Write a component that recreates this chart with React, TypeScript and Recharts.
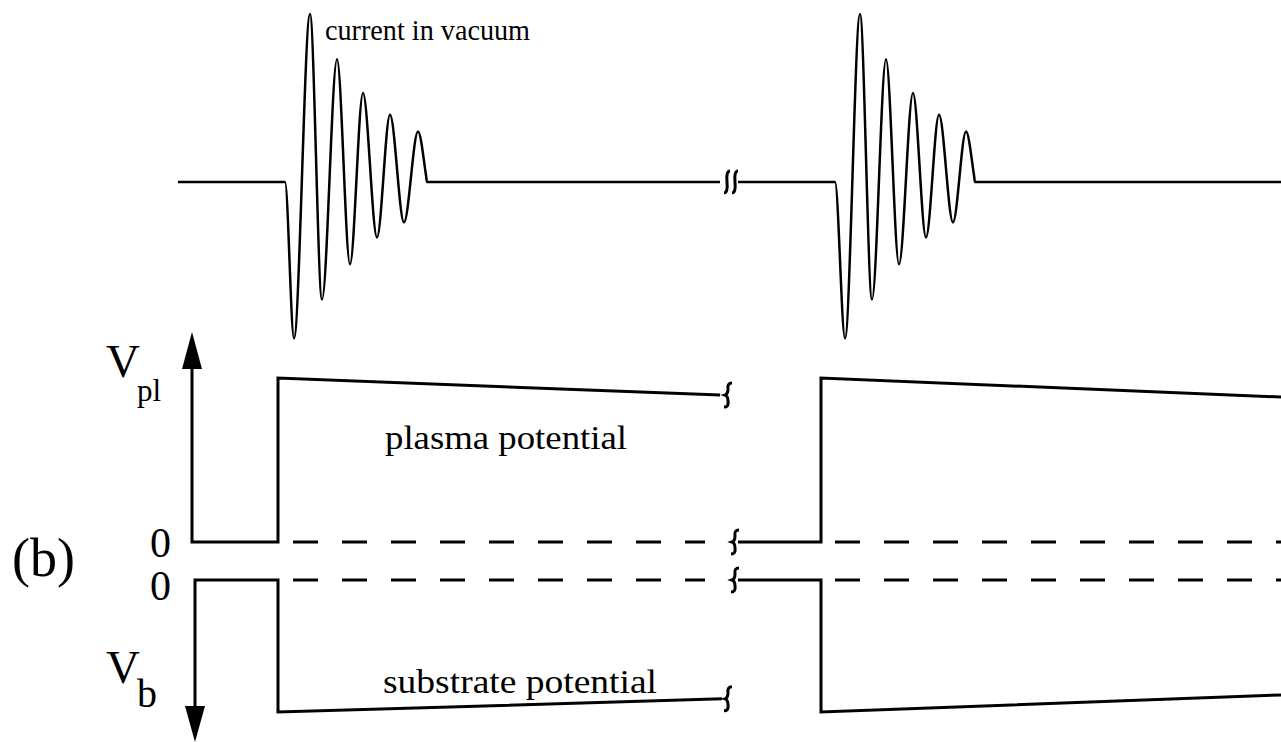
import React from "react";
import { ComposedChart, Line, Scatter, XAxis, YAxis } from "recharts";

// time axis (arbitrary units across the figure)
const burst1T = [285, 294, 310, 322, 337, 350, 363, 377, 390, 404, 418, 426];
const burst2T = [835, 845, 860, 872, 886, 899, 913, 926, 939, 953, 966, 974];
const burstI = [0, -0.93, 1.0, -0.7, 0.73, -0.49, 0.53, -0.33, 0.4, -0.24, 0.3, 0.04];

// plasma potential (upper trace), normalised to V_pl
const plasma1T = [192, 192, 278, 278, 720];
const plasma1V = [1.06, 0, 0, 1.0, 0.896];
const plasma2T = [738, 821, 821, 1281];
const plasma2V = [0, 0, 1.0, 0.884];

// substrate potential (lower trace), normalised to V_b
const sub1T = [195, 195, 278, 278, 722];
const sub1V = [-0.96, 0, 0, -1.0, -0.9];
const sub2T = [738, 821, 821, 1281];
const sub2V = [0, 0, -1.0, -0.87];

// dashed zero references
const zeroA = [293, 705];
const zeroB = [835, 1281];

const pts = (t: number[], v: number[]) => t.map((x, i) => ({ t: x, v: v[i] }));

const current1 = [{ t: 178, v: 0 }, ...pts(burst1T, burstI), { t: 427, v: 0 }, { t: 720, v: 0 }];
const current2 = [{ t: 738, v: 0 }, ...pts(burst2T, burstI), { t: 975, v: 0 }, { t: 1281, v: 0 }];

const brace = (props: any) => {
  const { cx, cy } = props;
  const d = `M${cx + 4},${cy - 12} Q${cx - 1},${cy - 12} ${cx},${cy - 6} Q${cx},${cy - 1} ${cx - 3},${cy} Q${cx},${cy + 1} ${cx},${cy + 6} Q${cx + 1},${cy + 12} ${cx - 4},${cy + 12}`;
  return <path d={d} fill="none" stroke="#000" strokeWidth={3} />;
};
const doubleBrace = (props: any) => {
  const { cx, cy } = props;
  const s = (x: number) =>
    `M${x + 3},${cy - 11} Q${x - 1},${cy - 11} ${x},${cy} Q${x + 1},${cy + 11} ${x - 3},${cy + 11}`;
  return <path d={`${s(cx - 4)} ${s(cx + 4)}`} fill="none" stroke="#000" strokeWidth={3} />;
};
const arrowUp = (props: any) => {
  const { cx, cy } = props;
  return <path d={`M${cx},${cy} L${cx - 10},${cy + 37} L${cx + 10},${cy + 37} Z`} fill="#000" />;
};
const arrowDown = (props: any) => {
  const { cx, cy } = props;
  return <path d={`M${cx},${cy} L${cx - 10},${cy - 36} L${cx + 10},${cy - 36} Z`} fill="#000" />;
};

const serif = "Liberation Serif, DejaVu Serif, serif";

const lineProps = {
  stroke: "#000",
  dot: false,
  activeDot: false,
  isAnimationActive: false,
} as const;

export default function App() {
  return (
    <div style={{ position: "absolute", left: 0, top: 0, width: 1281, height: 742, background: "#fff" }}>
      <ComposedChart width={1281} height={742} margin={{ top: 0, right: 0, bottom: 0, left: 0 }}>
        <XAxis dataKey="t" type="number" domain={[0, 1281]} hide />
        <YAxis yAxisId="cur" dataKey="v" type="number" domain={[-3.333, 1.083]} hide />
        <YAxis yAxisId="pl" dataKey="v" type="number" domain={[-1.2195, 3.305]} hide />
        <YAxis yAxisId="sub" dataKey="v" type="number" domain={[-1.227, 4.394]} hide />

        <Line yAxisId="cur" data={current1} dataKey="v" type="monotone" strokeWidth={2.5} {...lineProps} />
        <Line yAxisId="cur" data={current2} dataKey="v" type="monotone" strokeWidth={2.5} {...lineProps} />

        <Line yAxisId="pl" data={pts(plasma1T, plasma1V)} dataKey="v" type="linear" strokeWidth={3} {...lineProps} />
        <Line yAxisId="pl" data={pts(plasma2T, plasma2V)} dataKey="v" type="linear" strokeWidth={3} {...lineProps} />
        <Line yAxisId="sub" data={pts(sub1T, sub1V)} dataKey="v" type="linear" strokeWidth={3} {...lineProps} />
        <Line yAxisId="sub" data={pts(sub2T, sub2V)} dataKey="v" type="linear" strokeWidth={3} {...lineProps} />

        <Line yAxisId="pl" data={zeroA.map((t) => ({ t, v: 0 }))} dataKey="v" strokeWidth={3} strokeDasharray="25 24" {...lineProps} />
        <Line yAxisId="pl" data={zeroB.map((t) => ({ t, v: 0 }))} dataKey="v" strokeWidth={3} strokeDasharray="25 24" {...lineProps} />
        <Line yAxisId="sub" data={zeroA.map((t) => ({ t, v: 0 }))} dataKey="v" strokeWidth={3} strokeDasharray="25 24" {...lineProps} />
        <Line yAxisId="sub" data={zeroB.map((t) => ({ t, v: 0 }))} dataKey="v" strokeWidth={3} strokeDasharray="25 24" {...lineProps} />

        <Scatter yAxisId="pl" data={[{ t: 192, v: 1.28 }]} shape={arrowUp} isAnimationActive={false} />
        <Scatter yAxisId="sub" data={[{ t: 195, v: -1.227 }]} shape={arrowDown} isAnimationActive={false} />

        <Scatter yAxisId="cur" data={[{ t: 731, v: 0 }]} shape={doubleBrace} isAnimationActive={false} />
        <Scatter yAxisId="pl" data={[{ t: 728, v: 0.896 }, { t: 735, v: 0 }]} shape={brace} isAnimationActive={false} />
        <Scatter yAxisId="sub" data={[{ t: 728, v: -0.9 }, { t: 735, v: 0 }]} shape={brace} isAnimationActive={false} />
      </ComposedChart>

      <svg width={1281} height={742} style={{ position: "absolute", left: 0, top: 0, pointerEvents: "none" }}>
        <g fontFamily={serif} fill="#000">
          <text x={325} y={40} fontSize={29} textLength={205} lengthAdjust="spacingAndGlyphs">current in vacuum</text>
          <text x={385} y={449} fontSize={33} textLength={242} lengthAdjust="spacingAndGlyphs">plasma potential</text>
          <text x={383} y={693} fontSize={33} textLength={274} lengthAdjust="spacingAndGlyphs">substrate potential</text>
          <text x={12} y={576} fontSize={54}>(b)</text>
          <text x={150} y={557} fontSize={42}>0</text>
          <text x={150} y={600} fontSize={42}>0</text>
          <text x={106} y={377} fontSize={47}>V</text>
          <text x={137} y={401} fontSize={31}>pl</text>
          <text x={106} y={683} fontSize={47}>V</text>
          <text x={137} y={707} fontSize={40}>b</text>
        </g>
      </svg>
    </div>
  );
}
